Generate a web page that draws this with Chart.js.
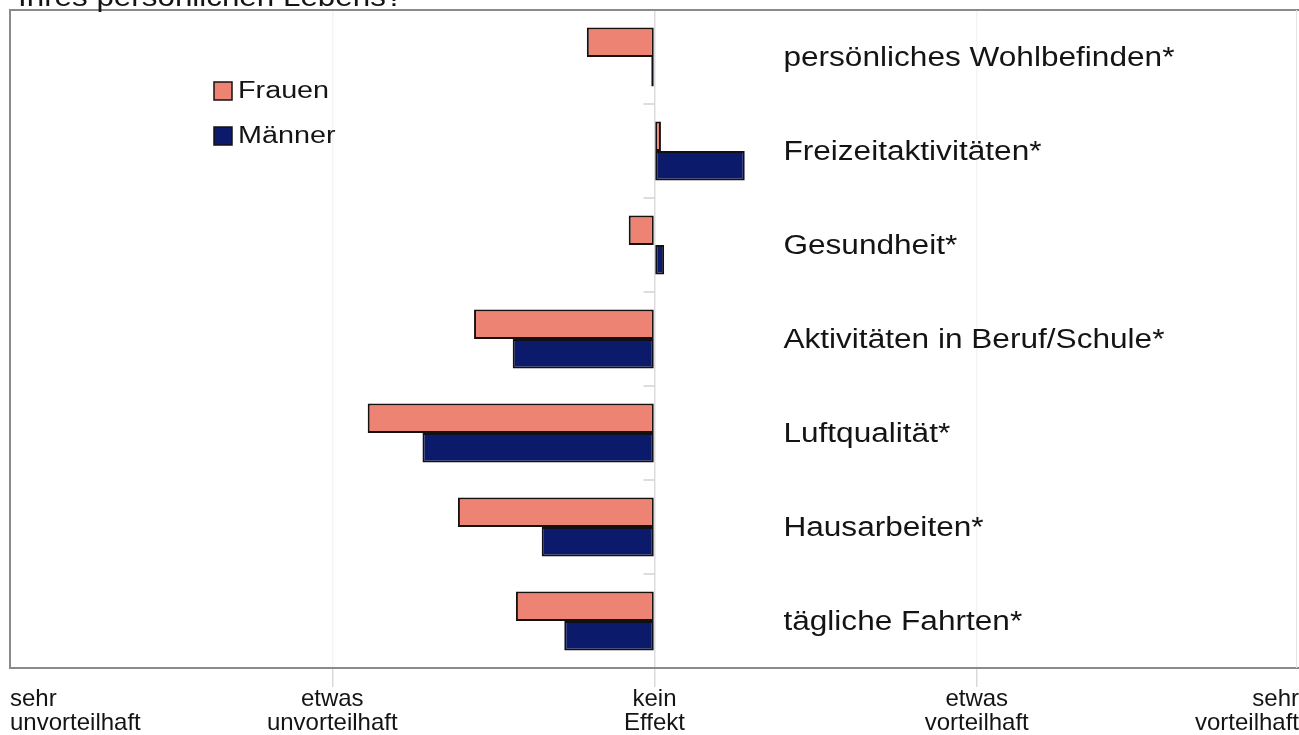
<!DOCTYPE html>
<html><head><meta charset="utf-8">
<script src="https://cdn.jsdelivr.net/npm/chart.js@4.4.1/dist/chart.umd.min.js"></script>
<style>html,body{margin:0;padding:0;background:#fff;overflow:hidden}#wrap{width:1299px;height:735px}</style>
</head><body><div id="wrap"><canvas id="c" width="1299" height="735"></canvas></div>
<script>
const categories = ['persönliches Wohlbefinden*','Freizeitaktivitäten*','Gesundheit*','Aktivitäten in Beruf/Schule*','Luftqualität*','Hausarbeiten*','tägliche Fahrten*'];
const seriesNames = ['Frauen','Männer'];
const frauen = [-0.21, 0.02, -0.08, -0.56, -0.89, -0.61, -0.43];
const maenner = [-0.01, 0.28, 0.03, -0.44, -0.72, -0.35, -0.28];
const tickValues = [-2, -1, 0, 1, 2];
const tickLabels = [['sehr','unvorteilhaft'],['etwas','unvorteilhaft'],['kein','Effekt'],['etwas','vorteilhaft'],['sehr','vorteilhaft']];
const titleText = 'Ihres persönlichen Lebens?';

const FONT = '"Liberation Sans", Arial, sans-serif';
const colors = ['#ec8373', '#0c1a6b'];

const decor = {
  id: 'decor',
  beforeDatasetsDraw(chart) {
    const {ctx, scales: {x, y}} = chart;
    const x0 = x.getPixelForValue(0);
    ctx.save();
    ctx.strokeStyle = '#d2d2d2';
    ctx.lineWidth = 1.5;
    for (let i = 0; i < categories.length - 1; i++) {
      const yb = (y.getPixelForValue(i) + y.getPixelForValue(i + 1)) / 2;
      ctx.beginPath(); ctx.moveTo(x0 - 11, yb); ctx.lineTo(x0, yb); ctx.stroke();
    }
    ctx.restore();
  },
  afterDraw(chart) {
    const {ctx, chartArea: a, scales: {x, y}} = chart;
    ctx.save();
    // frame top & right
    ctx.strokeStyle = '#8a8a8a'; ctx.lineWidth = 2;
    ctx.beginPath(); ctx.moveTo(a.left - 1, a.top); ctx.lineTo(Math.min(a.right, chart.width), a.top); ctx.stroke();
    ctx.strokeStyle = '#e4e4e4'; ctx.lineWidth = 1;
    ctx.beginPath(); ctx.moveTo(chart.width - 2.5, a.top); ctx.lineTo(chart.width - 2.5, a.bottom); ctx.stroke();
    // category labels
    const lx = x.getPixelForValue(0.4);
    ctx.fillStyle = '#141414';
    ctx.font = '27px ' + FONT;
    ctx.textBaseline = 'middle';
    categories.forEach((c, i) => {
      const yy = y.getPixelForValue(i) + 2;
      ctx.save(); ctx.translate(lx, yy); ctx.scale(1.17, 1); ctx.fillText(c, 0, 0); ctx.restore();
    });
    // legend
    chart.data.datasets.forEach((ds, i) => {
      const ly = 91 + i * 45;
      ctx.fillStyle = ds.backgroundColor;
      ctx.fillRect(214, ly - 9, 18, 18);
      ctx.strokeStyle = '#1a1010'; ctx.lineWidth = 1.5;
      ctx.strokeRect(214, ly - 9, 18, 18);
      ctx.fillStyle = '#141414';
      ctx.font = '23px ' + FONT;
      ctx.textBaseline = 'middle';
      ctx.save(); ctx.translate(238, ly + 1); ctx.scale(1.25, 1); ctx.fillText(ds.label, 0, 0); ctx.restore();
    });
    // title (cut off at top)
    ctx.fillStyle = '#141414';
    ctx.font = '28px ' + FONT;
    ctx.textBaseline = 'alphabetic';
    ctx.save(); ctx.translate(18, 6); ctx.scale(1.12, 1); ctx.fillText(titleText, 0, 0); ctx.restore();
    ctx.restore();
  }
};

new Chart(document.getElementById('c'), {
  type: 'bar',
  data: {
    labels: categories,
    datasets: [
      {label: seriesNames[0], data: frauen, backgroundColor: colors[0], borderColor: '#161010', borderWidth: 2, borderSkipped: false},
      {label: seriesNames[1], data: maenner, backgroundColor: colors[1], borderColor: '#101018', borderWidth: 2, borderSkipped: false}
    ]
  },
  options: {
    indexAxis: 'y',
    responsive: false,
    animation: false,
    devicePixelRatio: 1,
    layout: {padding: {left: 10, top: 10, right: 0, bottom: 0}},
    datasets: {bar: {barPercentage: 1, categoryPercentage: 0.63}},
    plugins: {legend: {display: false}, tooltip: {enabled: false}, title: {display: false}},
    scales: {
      x: {
        min: -2, max: 2,
        afterBuildTicks: s => { s.ticks = tickValues.map(v => ({value: v})); },
        afterFit: s => { s.height = 67; },
        ticks: {
          callback: (v) => tickLabels[tickValues.indexOf(v)],
          font: {family: FONT, size: 24, lineHeight: 1.0},
          color: '#141414', align: 'inner', padding: 0, maxRotation: 0, autoSkip: false
        },
        grid: {
          color: c => c.tick && c.tick.value === 0 ? '#dcdcdc' : (c.tick && Math.abs(c.tick.value) === 1 ? '#f4f4f4' : 'rgba(0,0,0,0)'),
          tickColor: c => c.tick && Math.abs(c.tick.value) < 2 ? '#dadada' : 'rgba(0,0,0,0)',
          tickLength: 19, lineWidth: 1.5
        },
        border: {display: true, color: '#8a8a8a', width: 2}
      },
      y: {
        ticks: {display: false},
        grid: {display: false, drawTicks: false},
        border: {display: true, color: '#8a8a8a', width: 2}
      }
    }
  },
  plugins: [decor]
});
</script>
</body></html>
